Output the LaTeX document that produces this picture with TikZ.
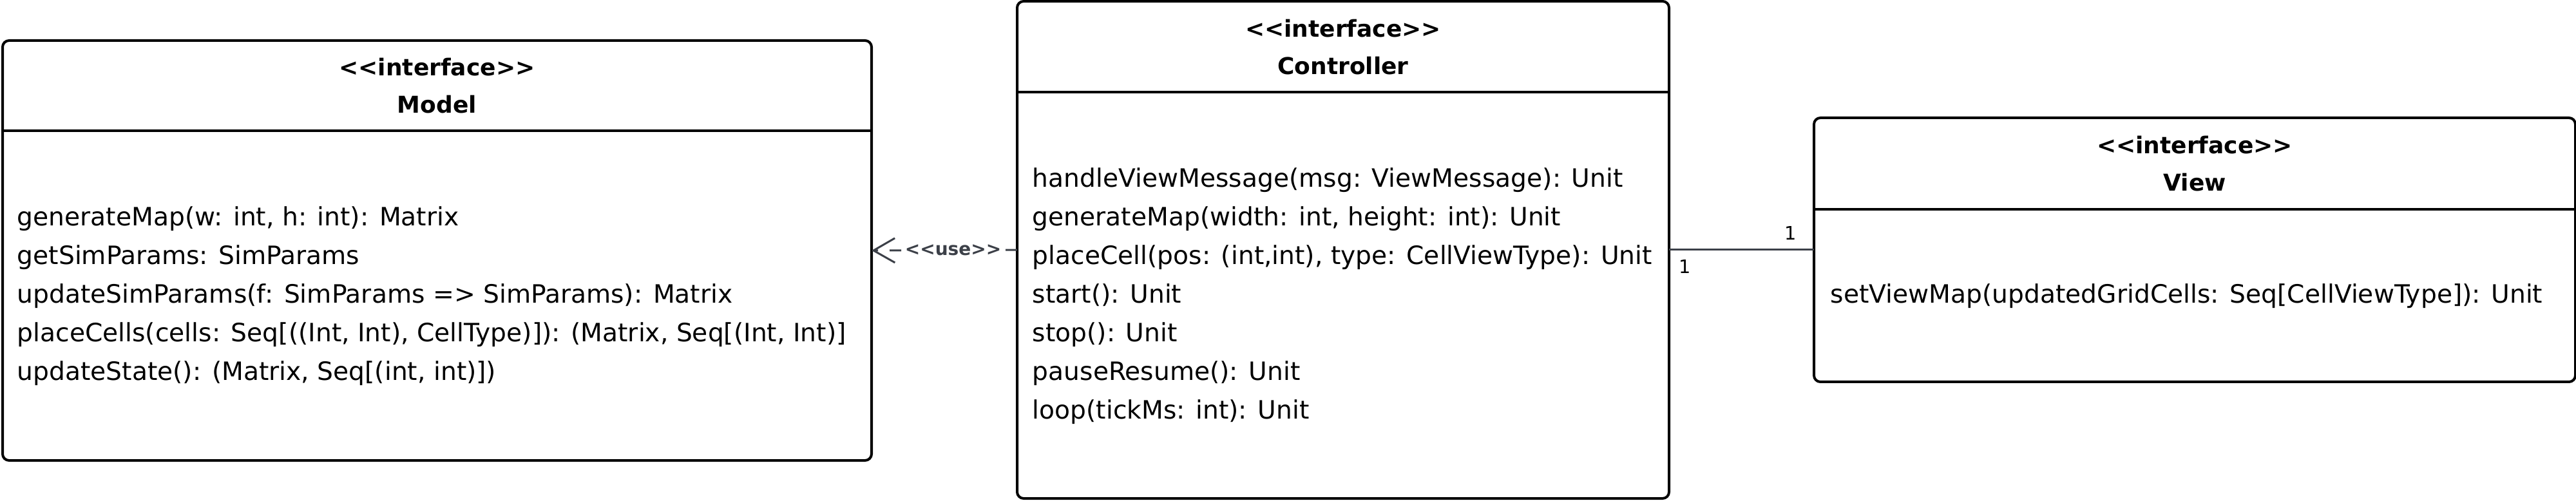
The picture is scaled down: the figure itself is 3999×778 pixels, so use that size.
\documentclass[tikz,border=0pt]{standalone}
\usepackage{fontspec}
\setmainfont{DejaVu Sans}
\usetikzlibrary{arrows.meta, calc}
\definecolor{linkgray}{HTML}{3C4048}
\newcommand{\umlstereo}[1]{\textless\kern0pt\textless#1\textgreater\kern0pt\textgreater}

\begin{document}
\begin{tikzpicture}[x = 0.25pt, y = -0.25pt, classbox/.style = {draw, line width = 1pt, rounded corners = 2.5pt, outer sep = 0pt, inner sep = 0pt}, header/.style = {align = center, font = \fontsize{9}{14.5}\selectfont\bfseries}, members/.style = {align = left, anchor = west, inner sep = 0pt, font = \fontsize{9.8}{15}\selectfont}, link/.style = {draw = linkgray, line width = 0.75pt}, stereo/.style = {fill = white, inner sep = 1pt, text = linkgray, font = \fontsize{7}{9}\selectfont\bfseries}, mult/.style = {inner sep = 3.5pt, font = \fontsize{7.2}{9}\selectfont}]
        \useasboundingbox (0, 0) rectangle (3999, 778);
        % classes
        \node[classbox, minimum width = 337.25pt, minimum height = 163pt] (model) at (678.5, 389) {};
        \node[classbox, minimum width = 253pt, minimum height = 193pt] (controller) at (2085, 388) {};
        \node[classbox, minimum width = 295.5pt, minimum height = 102.5pt] (view) at (3407, 388) {};
        \draw[line width = 1pt] ($(model.north west) + (0, 140)$) -- ($(model.north east) + (0, 140)$);
        \draw[line width = 1pt] ($(controller.north west) + (0, 141)$) -- ($(controller.north east) + (0, 141)$);
        \draw[line width = 1pt] ($(view.north west) + (0, 142)$) -- ($(view.north east) + (0, 142)$);
        % headers
        \node[header] (modelhead) at ($(model.north) + (0, 70)$) {\umlstereo{interface}\\Model};
        \node[header] (controllerhead) at ($(controller.north) + (0, 71)$) {\umlstereo{interface}\\Controller};
        \node[header] (viewhead) at ($(view.north) + (0, 71)$) {\umlstereo{interface}\\View};
        % members
        \node[members] (modelops) at ($(model.west) + (22, 71)$) {generateMap(w: int, h: int): Matrix\\getSimParams: SimParams\\updateSimParams(f: SimParams => SimParams): Matrix\\placeCells(cells: Seq[((Int, Int), CellType)]): (Matrix, Seq[(Int, Int)]\\updateState(): (Matrix, Seq[(int, int)])};
        \node[members] (controllerops) at ($(controller.west) + (23, 72)$) {handleViewMessage(msg: ViewMessage): Unit\\generateMap(width: int, height: int): Unit\\placeCell(pos: (int,int), type: CellViewType): Unit\\start(): Unit\\stop(): Unit\\pauseResume(): Unit\\loop(tickMs: int): Unit};
        \node[members] (viewops) at ($(view.west) + (25, 72)$) {setViewMap(updatedGridCells: Seq[CellViewType]): Unit};
        % relations
        \draw[link, dash pattern = on 4.5pt off 4.5pt, -{Straight Barb[length = 8.3pt, width = 9.5pt]}] (controller.west) -- node[stereo, pos = 0.44] {\umlstereo{use}} (model.east);
        \draw[link] (controller.east) -- node[mult, pos = 0, anchor = north west] {1} node[mult, pos = 1, anchor = south east, xshift = -3pt] {1} (view.west);
    \end{tikzpicture}
\end{document}
